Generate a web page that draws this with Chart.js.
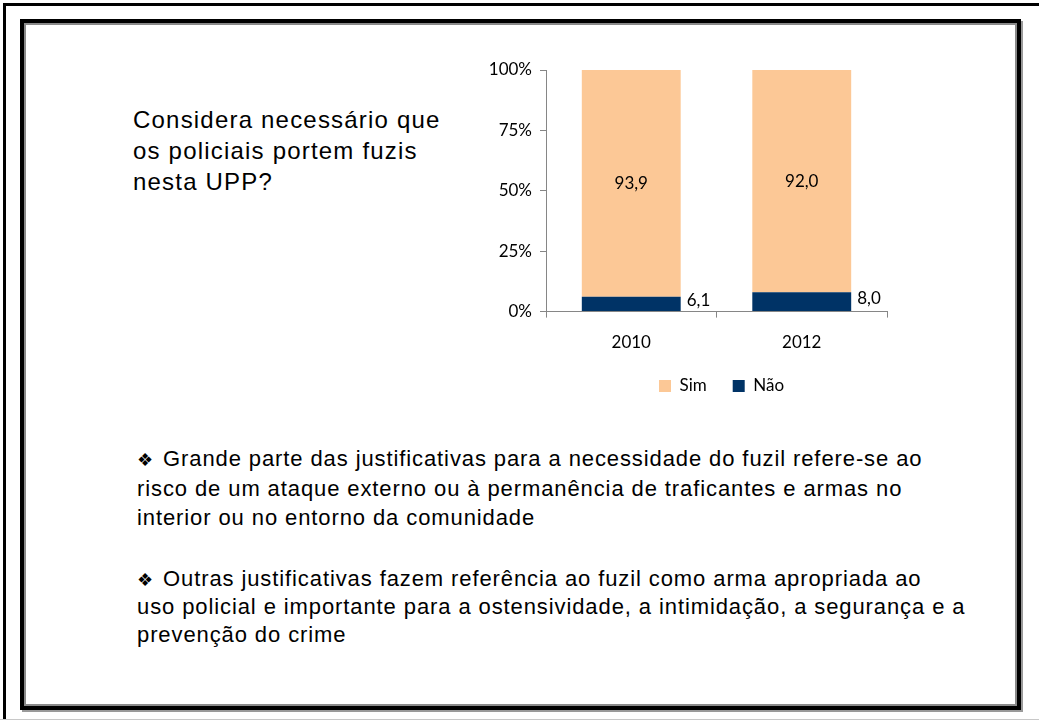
<!DOCTYPE html>
<html>
<head>
<meta charset="utf-8">
<script src="https://cdn.jsdelivr.net/npm/chart.js@4"></script>
<style>
  body { margin: 0; background: #fff; width: 1039px; height: 720px; position: relative; overflow: hidden; font-family: "Liberation Sans", Arial, sans-serif; }
  .outer { position: absolute; left: 3px; top: 3px; width: 1100px; height: 720px; border-left: 3px solid #000; border-top: 3px solid #000; }
  .bottomline { position: absolute; left: 0; top: 719px; width: 1039px; height: 1px; background: #c8c8c8; }
  .inner { position: absolute; left: 20px; top: 19px; width: 1001px; height: 691px; box-sizing: border-box; border: 4px solid #000; box-shadow: inset 0 0 0 2px #8a8a8a, 2px 2px 0 #9a9a9a; }
  .title { position: absolute; left: 133px; top: 104px; font-size: 24px; line-height: 31px; letter-spacing: 1.2px; color: #000; }
  .para { position: absolute; left: 137px; font-size: 22px; letter-spacing: 0.9px; color: #000; width: 880px; white-space: nowrap; }
  .bullet { font-size: 18px; letter-spacing: 3px; line-height: 0; }
  #wrap { position: absolute; left: 470px; top: 50px; width: 440px; height: 371px; }
</style>
</head>
<body>
<div class="outer"></div>
<div class="bottomline"></div>
<div class="inner"></div>
<div class="title">Considera necessário que<br>os policiais portem fuzis<br>nesta UPP?</div>
<div class="para" style="top:444px; line-height:29.5px"><span class="bullet">❖</span> Grande parte das justificativas para a necessidade do fuzil refere-se ao<br>risco de um ataque externo ou à permanência de traficantes e armas no<br>interior ou no entorno da comunidade</div>
<div class="para" style="top:565px; line-height:28px"><span class="bullet">❖</span> Outras justificativas fazem referência ao fuzil como arma apropriada ao<br>uso policial e importante para a ostensividade, a intimidação, a segurança e a<br>prevenção do crime</div>
<div id="wrap"><canvas id="myChart"></canvas></div>
<script>
const years = ['2010', '2012'];
const nao = [6.1, 8.0];
const sim = [93.9, 92.0];
const yTicks = [0, 25, 50, 75, 100];

function fmt(v) {
    return v.toFixed(1).replace('.', ',');
}

// labels on the bars: Sim in the middle, Não to the right of the bar
const barLabels = {
    id: 'barLabels',
    afterDatasetsDraw(chart) {
        const ctx = chart.ctx;
        ctx.save();
        ctx.font = '17px Lato, "DejaVu Sans", sans-serif';
        ctx.fillStyle = '#000';
        ctx.textBaseline = 'middle';
        chart.data.datasets.forEach((ds, i) => {
            chart.getDatasetMeta(i).data.forEach((bar, j) => {
                const v = ds.data[j];
                if (ds.label === 'Sim') {
                    ctx.textAlign = 'center';
                    ctx.fillText(fmt(v), bar.x, (bar.y + bar.base) / 2);
                } else {
                    ctx.textAlign = 'left';
                    ctx.fillText(fmt(v), bar.x + bar.width / 2 + 6, (bar.y + bar.base) / 2 - 3);
                }
            });
        });
        ctx.restore();
    }
};

// move the legend under the plot like in the original slide
const legendSpot = {
    id: 'legendSpot',
    afterUpdate(chart) {
        const lg = chart.legend;
        if (!lg || !lg.legendHitBoxes || !lg.legendHitBoxes.length) return;
        const hb = lg.legendHitBoxes[0];
        const dx = 189 - hb.left;
        const dy = (336 - hb.height / 2) - hb.top;
        lg.left += dx; lg.right += dx;
        lg.top += dy; lg.bottom += dy;
        lg.legendHitBoxes.forEach(b => { b.left += dx; b.top += dy; });
    }
};

Chart.defaults.font.family = 'Lato, "DejaVu Sans", sans-serif';
Chart.defaults.color = '#000';

const ctx = document.getElementById('myChart').getContext('2d');
const myChart = new Chart(ctx, {
    type: 'bar',
    data: {
        labels: years,
        datasets: [{
            label: 'Não',
            data: nao,
            backgroundColor: '#003366',
            categoryPercentage: 0.58,
            barPercentage: 1
        }, {
            label: 'Sim',
            data: sim,
            backgroundColor: '#FCC896',
            categoryPercentage: 0.58,
            barPercentage: 1
        }]
    },
    options: {
        responsive: true,
        maintainAspectRatio: false,
        animation: false,
        layout: { padding: { top: 20, right: 23, left: 0, bottom: 0 } },
        plugins: {
            tooltip: { enabled: false },
            legend: {
                position: 'bottom',
                reverse: true,
                labels: { boxWidth: 12, boxHeight: 12, font: { size: 17 }, padding: 26 }
            }
        },
        scales: {
            x: {
                stacked: true,
                border: { color: '#868686' },
                grid: { drawOnChartArea: false, color: '#868686', tickLength: 6 },
                ticks: { font: { size: 17 }, padding: 15 }
            },
            y: {
                stacked: true,
                min: 0,
                max: 100,
                afterFit: (scale) => { scale.width = 76; },
                afterBuildTicks: (scale) => { scale.ticks = yTicks.map(v => ({ value: v })); },
                border: { color: '#868686' },
                grid: { drawOnChartArea: false, color: '#868686', tickLength: 6 },
                ticks: {
                    font: { size: 17 },
                    padding: 8,
                    callback: function(val) {
                        return val + '%';
                    }
                }
            }
        }
    },
    plugins: [barLabels, legendSpot]
});
</script>
</body>
</html>
